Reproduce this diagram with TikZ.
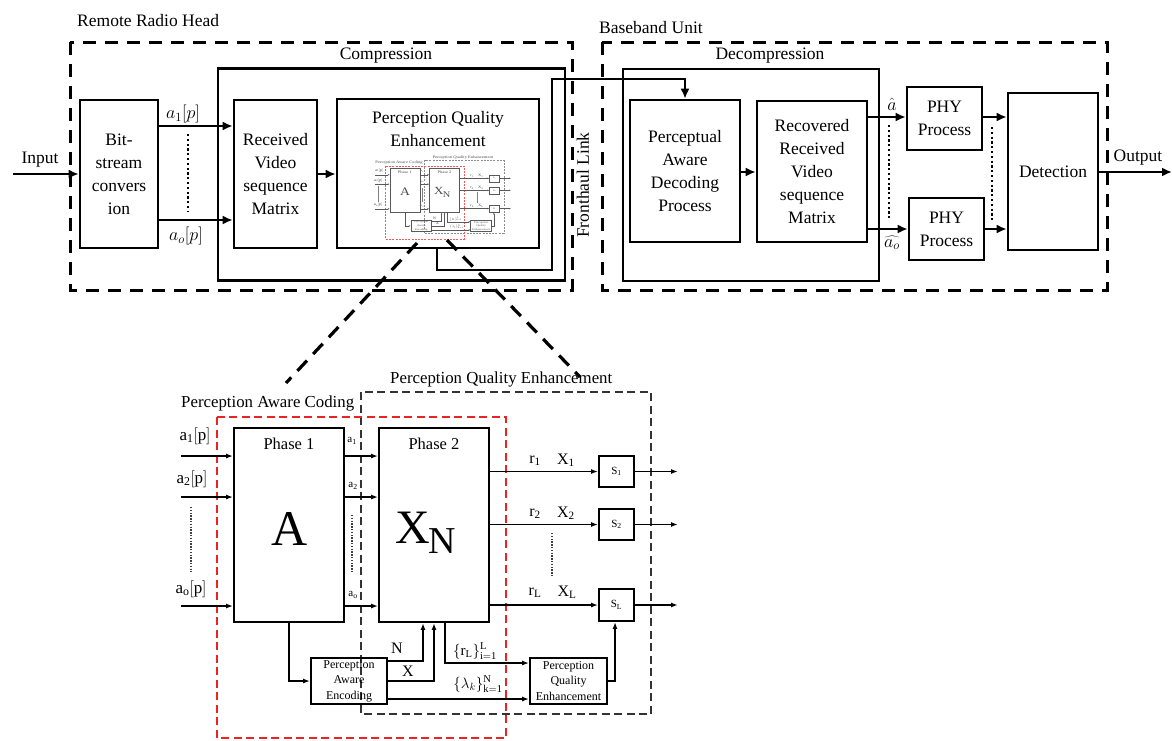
\RequirePackage{fix-cm}
\documentclass[tikz,border=0pt]{standalone}
\usepackage{fontspec}
\setmainfont{Liberation Serif}
\usetikzlibrary{arrows.meta}
\definecolor{pqred}{RGB}{232,36,36}
\newcommand\fs[2]{\fontsize{#1}{#2}\selectfont}
\tikzset{
 tbox/.style={draw, line width=2.6pt, align=center, inner sep=0pt, font=\fs{17.5}{23}},
 tlab/.style={font=\fs{17.5}{23}, inner sep=0pt},
 tarr/.style={line width=2.4pt, -{Latex[length=10pt,width=9pt]}},
 tline/.style={line width=2.6pt},
 bigdash/.style={line width=3pt, dash pattern=on 13pt off 9pt},
 zoomdash/.style={line width=3.2pt, dash pattern=on 14pt off 9pt},
 tdots/.style={line width=2.4pt, dash pattern=on 2.2pt off 2.6pt},
 bline/.style={line width=1.9pt},
 barr/.style={line width=1.9pt, -{Latex[length=7pt,width=5pt]}},
 bbox/.style={draw, line width=1.9pt, inner sep=0pt, align=center},
 kdash/.style={line width=1.7pt, draw=black!80, dash pattern=on 8pt off 4.5pt},
 rdash/.style={line width=1.8pt, draw=pqred, dash pattern=on 8pt off 4.5pt},
 bdots/.style={line width=1.4pt, draw=black!75, dash pattern=on 1.4pt off 1.4pt},
 blab/.style={inner sep=0pt},
}
\newcommand\lowdiag[1]{%
 \node[blab, font=\fs{16.8}{20}, anchor=west] (#1tq) at (390,379) {Perception Quality Enhancement};
 \node[blab, font=\fs{16.8}{20}, anchor=west] (#1tc) at (181,403) {Perception Aware Coding};
 \draw[kdash] (361,392) rectangle (651,714);
 \draw[rdash] (217,417) rectangle (506,738);
 \node[bbox, minimum width=110, minimum height=194] (#1p1) at (289,525) {};
 \node[bbox, minimum width=110, minimum height=194] (#1p2) at (434,525) {};
 \node[blab, font=\fs{16.5}{20}] (#1p1t) at (289,443.5) {Phase 1};
 \node[blab, font=\fs{16.5}{20}] (#1p2t) at (434,443.5) {Phase 2};
 \node[blab, font=\fs{50}{55}] (#1A) at (289.5,528.5) {A};
 \node[blab, font=\fs{48}{52}] (#1X) at (413,527.5) {X};
 \node[blab, font=\fs{38}{42}] (#1N) at (442,541.5) {N};
 \node[bbox, minimum width=35, minimum height=31, font=\fs{11}{13}] (#1s1) at (616.5,471.5) {$\mathrm{S_1}$};
 \node[bbox, minimum width=35, minimum height=31, font=\fs{11}{13}] (#1s2) at (616.5,524.5) {$\mathrm{S_2}$};
 \node[bbox, minimum width=35, minimum height=32, font=\fs{11}{13}] (#1sl) at (616.5,605) {$\mathrm{S_L}$};
 \node[bbox, minimum width=76, minimum height=46, font=\fs{12}{15.5}] (#1pae) at (349,681) {Perception\\Aware\\Encoding};
 \node[bbox, minimum width=77, minimum height=46, font=\fs{12}{15.5}] (#1pqe) at (568.5,681) {Perception\\Quality\\Enhancement};
 % inputs
 \coordinate (#1i1) at (181,456);
 \coordinate (#1i2) at (181,497);
 \coordinate (#1io) at (181,606);
 \draw[barr] (#1i1) -- (#1i1 -| #1p1.west);
 \draw[barr] (#1i2) -- (#1i2 -| #1p1.west);
 \draw[barr] (#1io) -- (#1io -| #1p1.west);
 \node[blab, font=\fs{17}{20}] (#1la1) at (195,436) {$\mathrm{a_1[p]}$};
 \node[blab, font=\fs{17}{20}] (#1la2) at (192,479) {$\mathrm{a_2[p]}$};
 \node[blab, font=\fs{17}{20}] (#1lao) at (191,589) {$\mathrm{a_o[p]}$};
 \draw[bdots] (191,507) -- (191,572);
 % between phases
 \draw[barr] (#1p1.east |- #1i1) -- (#1p2.west |- #1i1);
 \draw[barr] (#1p1.east |- #1i2) -- (#1p2.west |- #1i2);
 \draw[barr] (#1p1.east |- #1io) -- (#1p2.west |- #1io);
 \node[blab, font=\fs{11}{13}] (#1ma1) at (352,441) {$\mathrm{a_1}$};
 \node[blab, font=\fs{11}{13}] (#1ma2) at (353,486) {$\mathrm{a_2}$};
 \node[blab, font=\fs{11}{13}] (#1mao) at (353,595) {$\mathrm{a_o}$};
 \draw[bdots] (352,515) -- (352,573);
 % outputs
 \draw[barr] (#1p2.east |- #1s1) -- (#1s1.west);
 \draw[barr] (#1p2.east |- #1s2) -- (#1s2.west);
 \draw[barr] (#1p2.east |- #1sl) -- (#1sl.west);
 \coordinate (#1o1) at (678,471.5);
 \coordinate (#1o2) at (678,524.5);
 \coordinate (#1ol) at (678,605);
 \draw[barr] (#1s1.east) -- (#1o1);
 \draw[barr] (#1s2.east) -- (#1o2);
 \draw[barr] (#1sl.east) -- (#1ol);
 \node[blab, font=\fs{16}{19}] (#1r1) at (535,461) {$\mathrm{r_1}$};
 \node[blab, font=\fs{16}{19}] (#1x1) at (566,460) {$\mathrm{X_1}$};
 \node[blab, font=\fs{16}{19}] (#1r2) at (535,514) {$\mathrm{r_2}$};
 \node[blab, font=\fs{16}{19}] (#1x2) at (566,513) {$\mathrm{X_2}$};
 \node[blab, font=\fs{16}{19}] (#1rl) at (535,593) {$\mathrm{r_L}$};
 \node[blab, font=\fs{16}{19}] (#1xl) at (567,592) {$\mathrm{X_L}$};
 \draw[bdots] (552,533) -- (552,577);
 % bottom connections
 \draw[barr] (#1p1.south) |- (#1pae.west);
 \draw[barr] (#1pae.east |- 0,661) -| (#1p2.south -| 423,0);
 \draw[barr] (#1pae.east |- 0,681) -| (#1p2.south -| 434,0);
 \draw[barr] (#1p2.south -| 445,0) |- (#1pqe.west |- 0,663);
 \draw[barr] (#1pae.east |- 0,699) -- (#1pqe.west |- 0,699);
 \draw[barr] (#1pqe.east) -| (#1sl.south -| 615,0);
 \node[blab, font=\fs{16}{19}] (#1ln) at (397,648) {N};
 \node[blab, font=\fs{16}{19}] (#1lx) at (408,671) {X};
 \node[blab, font=\fs{15}{18}] (#1lr) at (475,651) {$\{\mathrm{r_L}\}_{\mathrm{i=1}}^{\mathrm{L}}$};
 \node[blab, font=\fs{15}{18}] (#1ll) at (478,684) {$\{\lambda_k\}_{\mathrm{k=1}}^{\mathrm{N}}$};
}
\begin{document}
\begin{tikzpicture}[x=1pt,y=-1pt]
\useasboundingbox (0,0) rectangle (1172,740);
% ---------- top row ----------
\node[tlab, anchor=west] (rrhl) at (77,21) {Remote Radio Head};
\node[tlab, anchor=west] (bbul) at (599,28) {Baseband Unit};
\draw[bigdash] (70,42) rectangle (572,290);
\draw[bigdash] (602,42) rectangle (1107,290);
\node[tlab] (compl) at (386,56) {Compression};
\node[tlab] (decl) at (770,56) {Decompression};
\node[tbox, minimum width=347, minimum height=212] (comp) at (391.5,174.5) {};
\node[tbox, minimum width=256, minimum height=212] (decomp) at (751,175) {};
\node[tbox, minimum width=78, minimum height=148] (bsc) at (119,174) {Bit-\\stream\\convers\\ion};
\node[tbox, minimum width=83, minimum height=148] (rvsm) at (275.5,174) {Received\\Video\\sequence\\Matrix};
\node[tbox, minimum width=202, minimum height=149] (pqe) at (438,173.5) {};
\node[tlab, align=center] (pqet) at (438,129) {Perception Quality\\Enhancement};
\node[tbox, minimum width=110, minimum height=142] (pad) at (685,171) {Perceptual\\Aware\\Decoding\\Process};
\node[tbox, minimum width=110, minimum height=141] (rrvsm) at (812,171.5) {Recovered\\Received\\Video\\sequence\\Matrix};
\node[tbox, minimum width=75, minimum height=63] (phy1) at (944.5,118.5) {PHY\\Process};
\node[tbox, minimum width=75, minimum height=62] (phy2) at (946.5,229) {PHY\\Process};
\node[tbox, minimum width=90, minimum height=157] (det) at (1053,171.5) {Detection};
% input side
\coordinate (inS) at (13,174);
\draw[tarr] (inS) -- (inS -| bsc.west);
\node[tlab] (inl) at (40,160) {Input};
\draw[tarr] (bsc.east |- 0,126) -- (rvsm.west |- 0,126);
\draw[tarr] (bsc.east |- 0,220) -- (rvsm.west |- 0,220);
\draw[tdots] (188,134) -- (188,212);
\node[tlab, font=\fs{18}{22}] (la1) at (183,114) {$a_1[p]$};
\node[tlab, font=\fs{18}{22}] (lao) at (186,236) {$a_o[p]$};
\draw[tarr] (rvsm.east |- 0,174) -- (pqe.west |- 0,174);
% fronthaul
\coordinate (fh1) at (437,270);
\coordinate (fh2) at (552,270);
\coordinate (fh3) at (552,79);
\coordinate (fh4) at (685,79);
\draw[tarr] (pqe.south -| fh1) -- (fh1) -- (fh2) -- (fh3) -- (fh4) -- (pad.north -| fh4);
\node[tlab, rotate=90] (fhl) at (583,185) {Fronthaul Link};
% decompression side
\draw[tarr] (pad.east |- 0,172) -- (rrvsm.west |- 0,172);
\draw[tarr] (rrvsm.east |- 0,117) -- (phy1.west |- 0,117);
\draw[tarr] (rrvsm.east |- 0,229) -- (phy2.west |- 0,229);
\draw[tarr] (phy1.east |- 0,117) -- (det.west |- 0,117);
\draw[tarr] (phy2.east |- 0,229) -- (det.west |- 0,229);
\draw[tdots] (889,125) -- (889,220);
\draw[tdots] (992,127) -- (992,220);
\node[tlab, font=\fs{18}{22}] (lah) at (892,104) {$\hat{a}$};
\node[tlab, font=\fs{18}{22}] (laoh) at (892,243) {$\widehat{a_o}$};
\coordinate (outE) at (1172,172);
\draw[tarr] (det.east |- outE) -- (outE);
\node[tlab] (outl) at (1138,158) {Output};
% thumbnail inside PQE box
\begin{scope}[shift={(326,71.3)}, xscale=0.273, yscale=0.227, transform shape,
  bline/.style={line width=0.45pt, draw=black!65},
  barr/.style={line width=0.45pt, draw=black!65, -{Latex[length=2pt,width=1.5pt]}},
  bbox/.style={draw=black!65, line width=0.45pt, inner sep=0pt, align=center, text=black!65},
  kdash/.style={line width=0.4pt, draw=black!45, dash pattern=on 2pt off 1.2pt},
  rdash/.style={line width=0.45pt, draw=pqred!75, dash pattern=on 2pt off 1.2pt},
  bdots/.style={line width=0.3pt, draw=black!50, dash pattern=on 0.4pt off 0.4pt},
  blab/.style={inner sep=0pt, text=black!70}]
 \lowdiag{t}
\end{scope}
% zoom lines
\coordinate (z1a) at (417,243);
\coordinate (z1b) at (286,383);
\coordinate (z2a) at (447,240);
\coordinate (z2b) at (580,377);
\draw[zoomdash] (z1a) -- (z1b);
\draw[zoomdash] (z2a) -- (z2b);
% ---------- bottom detail ----------
\lowdiag{b}
\end{tikzpicture}
\end{document}
